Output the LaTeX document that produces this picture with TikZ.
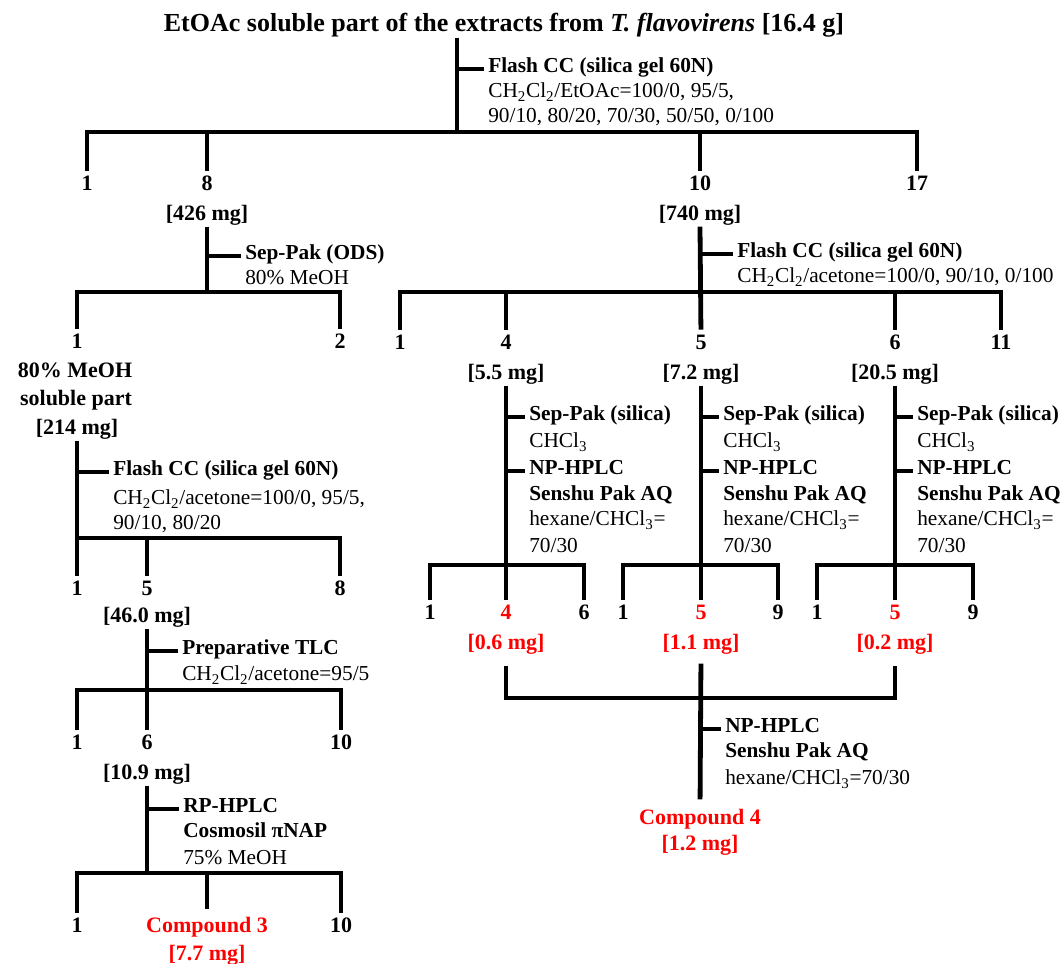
\documentclass[tikz,border=0pt]{standalone}
\usepackage{fontspec}
\setmainfont{Liberation Serif}
\usetikzlibrary{calc}
\begin{document}
\begin{tikzpicture}[x=0.75pt,y=-0.75pt]
	\tikzstyle{frac}=[font=\bfseries\fontsize{16.5}{19}\selectfont, inner sep=3pt, text height=1.5ex, text depth=.25ex, yshift=-3pt]
	\tikzstyle{hit}=[frac, text=red]
	\tikzstyle{cond}=[anchor=west, inner sep=0pt, font=\fontsize{16}{19}\selectfont, text height=1.5ex, text depth=.25ex, yshift=-3pt]
	\tikzstyle{method}=[cond, font=\bfseries\fontsize{16}{19}\selectfont]
	\tikzstyle{stem}=[draw, line width=3.6pt, line join=miter, black]
	\tikzstyle{drop}=[stem, shorten >=5pt]
	\tikzstyle{rake}=[stem, shorten <=5pt, shorten >=5pt]
	\tikzstyle{spur}=[draw, line width=3.2pt, black, shorten >=3pt]

	\useasboundingbox (0,0) rectangle (1061,964);

	% crude extract
	\node[frac, font=\bfseries\fontsize{19.5}{22}\selectfont] (top) at (504,24) {EtOAc soluble part of the extracts from \textit{T. flavovirens} [16.4 g]};
	\coordinate (s0) at (457,132);
	\node[method] (c0a) at (488,65) {Flash CC (silica gel 60N)};
	\node[cond] (c0b) at (488,90) {CH\textsubscript{2}Cl\textsubscript{2}/EtOAc=100/0, 95/5,};
	\node[cond] (c0c) at (488,115) {90/10, 80/20, 70/30, 50/50, 0/100};
	\node[frac] (f1) at (87,183) {1};
	\node[frac] (f8) at (207,183) {8};
	\node[frac] (f10) at (700,183) {10};
	\node[frac] (f17) at (917,183) {17};
	\node[frac] (m8) at (207,213) {[426 mg]};
	\node[frac] (m10) at (700,213) {[740 mg]};
	\draw[stem] (top.south -| s0) -- (s0);
	\draw[spur] (s0 |- c0a) -- (c0a.west);
	\draw[rake] (f1.north) |- (s0) -| (f17.north);
	\draw[drop] (s0 -| f8) -- (f8.north);
	\draw[drop] (s0 -| f10) -- (f10.north);

	% fr. 8
	\coordinate (s8) at (207,292);
	\node[method] (c8a) at (245,252) {Sep-Pak (ODS)};
	\node[cond] (c8b) at (245,277) {80\% MeOH};
	\node[frac] (g1) at (77,341) {1};
	\node[frac] (g2) at (340,341) {2};
	\draw[stem] (m8.south) -- (s8);
	\draw[spur] (s8 |- c8a) -- (c8a.west);
	\draw[rake] (g1.north) |- (s8) -| (g2.north);

	\node[frac] (p1a) at (75,370) {80\% MeOH};
	\node[frac] (p1b) at (76,398) {soluble part};
	\node[frac] (p1c) at (77,427) {[214 mg]};
	\coordinate (s1) at (77,538);
	\node[method] (c1a) at (113,468) {Flash CC (silica gel 60N)};
	\node[cond] (c1b) at (113,497) {CH\textsubscript{2}Cl\textsubscript{2}/acetone=100/0, 95/5,};
	\node[cond] (c1c) at (113,522) {90/10, 80/20};
	\node[frac] (h1) at (77,588) {1};
	\node[frac] (h5) at (147,588) {5};
	\node[frac] (h8) at (340,588) {8};
	\draw[drop] (p1c.south) -- (h1.north);
	\draw[spur] (s1 |- c1a) -- (c1a.west);
	\draw[drop] (s1) -| (h8.north);
	\draw[drop] (s1 -| h5) -- (h5.north);

	\node[frac] (m5) at (147,615) {[46.0 mg]};
	\coordinate (s5) at (147,690);
	\node[method] (c5a) at (182,647) {Preparative TLC};
	\node[cond] (c5b) at (182,673) {CH\textsubscript{2}Cl\textsubscript{2}/acetone=95/5};
	\node[frac] (k1) at (77,742) {1};
	\node[frac] (k6) at (147,742) {6};
	\node[frac] (k10) at (341,742) {10};
	\draw[drop] (m5.south) -- (k6.north);
	\draw[spur] (s5 |- c5a) -- (c5a.west);
	\draw[rake] (k1.north) |- (s5) -| (k10.north);

	\node[frac] (m6) at (147,772) {[10.9 mg]};
	\coordinate (s6) at (147,873);
	\node[method] (c6a) at (183,805) {RP-HPLC};
	\node[method] (c6b) at (183,830) {Cosmosil πNAP};
	\node[cond] (c6c) at (183,857) {75\% MeOH};
	\node[frac] (l1) at (77,925) {1};
	\node[hit] (cp3) at (207,925) {Compound 3};
	\node[frac] (l10) at (341,925) {10};
	\node[hit] (m3) at (207,953) {[7.7 mg]};
	\draw[stem] (m6.south) -- (s6);
	\draw[spur] (s6 |- c6a) -- (c6a.west);
	\draw[rake] (l1.north) |- (s6) -| (l10.north);
	\draw[stem, shorten >=8pt] (s6 -| cp3) -- (cp3.north);

	% fr. 10
	\coordinate (s10) at (700,292);
	\node[method] (c10a) at (737,250) {Flash CC (silica gel 60N)};
	\node[cond] (c10b) at (737,275) {CH\textsubscript{2}Cl\textsubscript{2}/acetone=100/0, 90/10, 0/100};
	\node[frac] (r1) at (400,342) {1};
	\node[frac] (r4) at (506,342) {4};
	\node[frac] (r5) at (701,342) {5};
	\node[frac] (r6) at (895,342) {6};
	\node[frac] (r11) at (1001,342) {11};
	\node[frac] (q4) at (506,372) {[5.5 mg]};
	\node[frac] (q5) at (701,372) {[7.2 mg]};
	\node[frac] (q6) at (895,372) {[20.5 mg]};
	\draw[drop] (m10.south) -- (r5.north);
	\draw[spur] (s10 |- c10a) -- (c10a.west);
	\draw[rake] (r1.north) |- (s10) -| (r11.north);
	\draw[drop] (s10 -| r4) -- (r4.north);
	\draw[drop] (s10 -| r6) -- (r6.north);

	% fr. 10-4
	\coordinate (t4) at (506,565);
	\node[method] (sp4) at (529,413) {Sep-Pak (silica)};
	\node[cond] (ch4) at (529,440) {CHCl\textsubscript{3}};
	\node[method] (np4) at (529,467) {NP-HPLC};
	\node[method] (ss4) at (529,493) {Senshu Pak AQ};
	\node[cond] (hx4) at (529,518) {hexane/CHCl\textsubscript{3}=};
	\node[cond] (rt4) at (529,545) {70/30};
	\node[frac] (x41) at (430,612) {1};
	\node[hit] (x44) at (506,612) {4};
	\node[frac] (x46) at (584,612) {6};
	\node[hit] (u4) at (506,642) {[0.6 mg]};
	\draw[drop] (q4.south) -- (x44.north);
	\draw[spur] (t4 |- sp4) -- (sp4.west);
	\draw[spur] (t4 |- np4) -- (np4.west);
	\draw[rake] (x41.north) |- (t4) -| (x46.north);

	% fr. 10-5
	\coordinate (t5) at (701,565);
	\node[method] (sp5) at (723,413) {Sep-Pak (silica)};
	\node[cond] (ch5) at (723,440) {CHCl\textsubscript{3}};
	\node[method] (np5) at (723,467) {NP-HPLC};
	\node[method] (ss5) at (723,493) {Senshu Pak AQ};
	\node[cond] (hx5) at (723,518) {hexane/CHCl\textsubscript{3}=};
	\node[cond] (rt5) at (723,545) {70/30};
	\node[frac] (x51) at (623,612) {1};
	\node[hit] (x55) at (701,612) {5};
	\node[frac] (x59) at (778,612) {9};
	\node[hit] (u5) at (701,642) {[1.1 mg]};
	\draw[drop] (q5.south) -- (x55.north);
	\draw[spur] (t5 |- sp5) -- (sp5.west);
	\draw[spur] (t5 |- np5) -- (np5.west);
	\draw[rake] (x51.north) |- (t5) -| (x59.north);

	% fr. 10-6
	\coordinate (t6) at (895,565);
	\node[method] (sp6) at (917,413) {Sep-Pak (silica)};
	\node[cond] (ch6) at (917,440) {CHCl\textsubscript{3}};
	\node[method] (np6) at (917,467) {NP-HPLC};
	\node[method] (ss6) at (917,493) {Senshu Pak AQ};
	\node[cond] (hx6) at (917,518) {hexane/CHCl\textsubscript{3}=};
	\node[cond] (rt6) at (917,545) {70/30};
	\node[frac] (x61) at (817,612) {1};
	\node[hit] (x65) at (895,612) {5};
	\node[frac] (x69) at (973,612) {9};
	\node[hit] (u6) at (895,642) {[0.2 mg]};
	\draw[drop] (q6.south) -- (x65.north);
	\draw[spur] (t6 |- sp6) -- (sp6.west);
	\draw[spur] (t6 |- np6) -- (np6.west);
	\draw[rake] (x61.north) |- (t6) -| (x69.north);

	% combined
	\coordinate (j4) at (700,698);
	\node[method] (c4a) at (725,725) {NP-HPLC};
	\node[method] (c4b) at (725,750) {Senshu Pak AQ};
	\node[cond] (c4c) at (725,777) {hexane/CHCl\textsubscript{3}=70/30};
	\node[hit] (cp4) at (700,817) {Compound 4};
	\node[hit] (m4) at (700,843) {[1.2 mg]};
	\draw[stem, shorten <=8pt, shorten >=8pt] (u4.south) |- (j4) -| (u6.south);
	\draw[stem, shorten <=6pt, shorten >=9pt] (u5.south) -- (cp4.north);
	\draw[spur] (j4 |- c4a) -- (c4a.west);
\end{tikzpicture}
\end{document}
